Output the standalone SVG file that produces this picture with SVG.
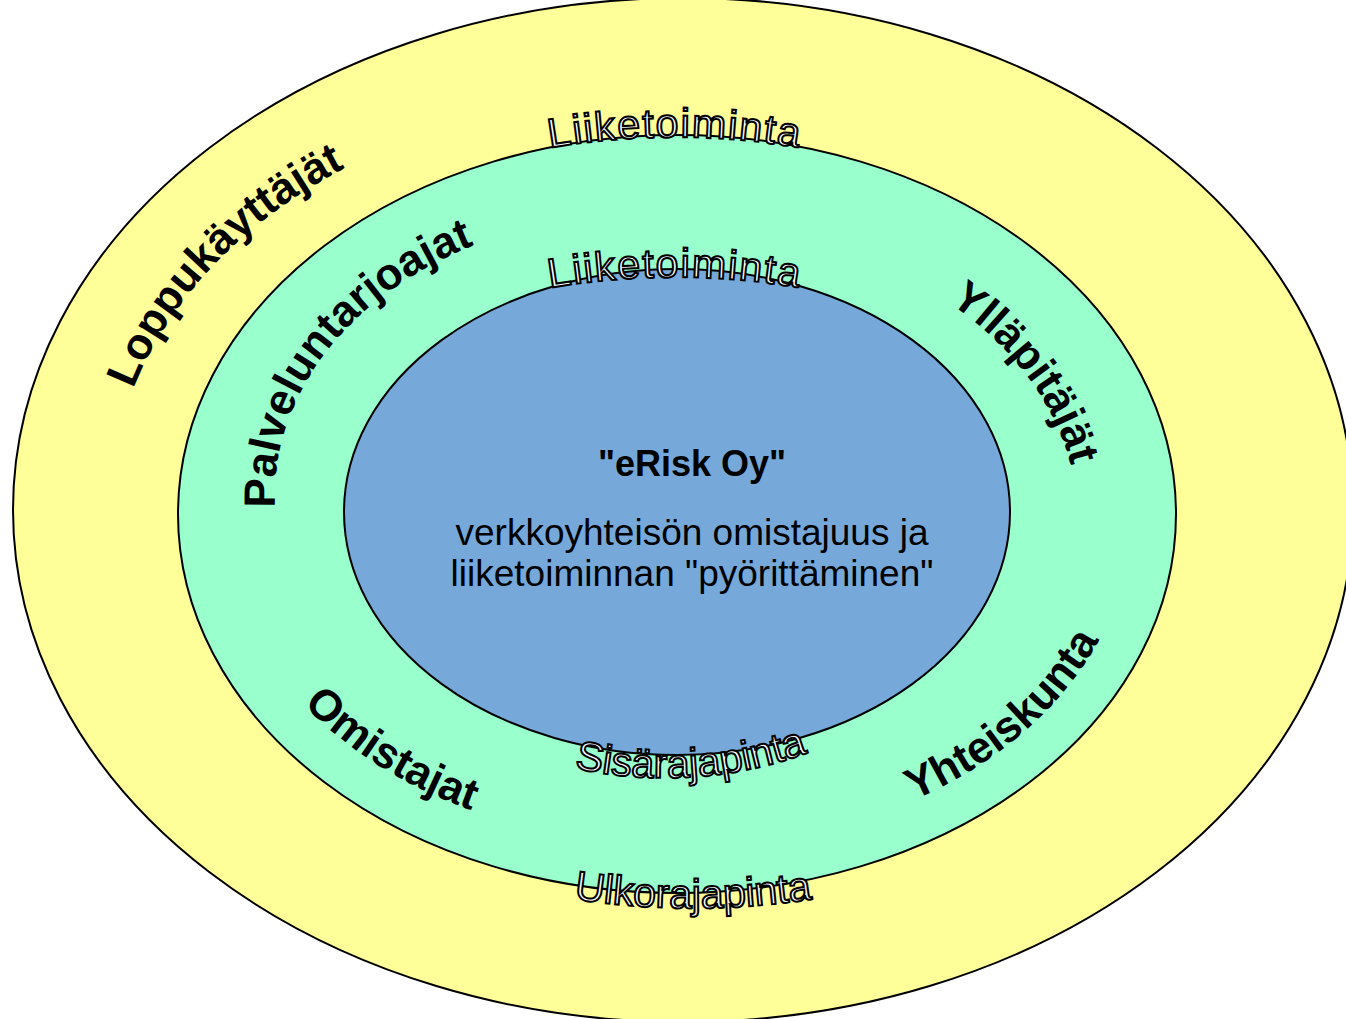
<svg xmlns="http://www.w3.org/2000/svg" xmlns:xlink="http://www.w3.org/1999/xlink" width="1346" height="1019" viewBox="0 0 1346 1019">
<style>
.ring{stroke:#000;stroke-width:2}
.lbl{font-family:"Liberation Sans",Arial,sans-serif;font-weight:bold;font-size:44px;fill:#000}
.out{font-family:"Liberation Sans",Arial,sans-serif;font-size:41px;fill:#fff;stroke:#000;stroke-width:2px}
.ctr{font-family:"Liberation Sans",Arial,sans-serif;fill:#000;text-anchor:middle}
</style>
<defs>
<path id="pLoppu" d="M 140 476.3 A 539 410 0 0 1 449.2 140.4"/>
<path id="pPalv" d="M 307.4 536.6 A 371 282 0 0 1 520.2 256.4"/>
<path id="pYlla" d="M 851.8 251.8 A 385 292 0 0 1 1059.1 547.6"/>
<path id="pYht" d="M 789.3 830.7 A 434 330 0 0 0 1110 535"/>
<path id="pOmi" d="M 245.7 569.8 A 438 333 0 0 0 646.4 844.2"/>
<path id="pLiik1" d="M 500 158 A 750 750 0 0 1 850 158"/>
<path id="pLiik2" d="M 500 298 A 750 750 0 0 1 850 298"/>
<path id="pSisa" d="M 540 759 A 420 420 0 0 0 830 744"/>
<path id="pUlko" d="M 533 892 A 800 800 0 0 0 853 892"/>
</defs>
<g id="outer-ring">
<ellipse class="ring" cx="683" cy="510" rx="670" ry="512" fill="#FFFF99"/>
</g>
<g id="middle-ring">
<ellipse class="ring" cx="677" cy="514" rx="499" ry="379" fill="#99FFCC"/>
</g>
<g id="core">
<ellipse class="ring" cx="677" cy="512" rx="333" ry="243" fill="#76A9DA"/>
<text class="ctr" x="692" y="476" font-size="36" font-weight="bold">"eRisk Oy"</text>
<text class="ctr" x="692" y="545" font-size="37">verkkoyhteisön omistajuus ja</text>
<text class="ctr" x="692" y="586" font-size="37">liiketoiminnan "pyörittäminen"</text>
</g>
<g id="label-loppukayttajat" transform="translate(-27,-6)">
<text class="lbl"><textPath xlink:href="#pLoppu" href="#pLoppu" startOffset="50%" text-anchor="middle">Loppukäyttäjät</textPath></text>
</g>
<g id="label-palveluntarjoajat" transform="translate(-31,-17)">
<text class="lbl" font-size="39"><textPath xlink:href="#pPalv" href="#pPalv" startOffset="49.5%" text-anchor="middle">Palveluntarjoajat</textPath></text>
</g>
<g id="label-yllapitajat" transform="translate(16,9)">
<text class="lbl"><textPath xlink:href="#pYlla" href="#pYlla" startOffset="50%" text-anchor="middle">Ylläpitäjät</textPath></text>
</g>
<g id="label-yhteiskunta" transform="translate(21,2)">
<text class="lbl" font-size="47"><textPath xlink:href="#pYht" href="#pYht" startOffset="50%" text-anchor="middle">Yhteiskunta</textPath></text>
</g>
<g id="label-omistajat" transform="translate(-19,-3)">
<text class="lbl"><textPath xlink:href="#pOmi" href="#pOmi" startOffset="50%" text-anchor="middle">Omistajat</textPath></text>
</g>
<g id="label-liiketoiminta-outer">
<text class="out" letter-spacing="1.8"><textPath xlink:href="#pLiik1" href="#pLiik1" startOffset="50%" text-anchor="middle">Liiketoiminta</textPath></text>
</g>
<g id="label-liiketoiminta-inner">
<text class="out" letter-spacing="1.8"><textPath xlink:href="#pLiik2" href="#pLiik2" startOffset="50%" text-anchor="middle">Liiketoiminta</textPath></text>
</g>
<g id="label-sisarajapinta">
<text class="out" font-size="40"><textPath xlink:href="#pSisa" href="#pSisa" startOffset="52%" text-anchor="middle">Sisärajapinta</textPath></text>
</g>
<g id="label-ulkorajapinta">
<text class="out" font-size="40"><textPath xlink:href="#pUlko" href="#pUlko" startOffset="50%" text-anchor="middle">Ulkorajapinta</textPath></text>
</g>
</svg>
